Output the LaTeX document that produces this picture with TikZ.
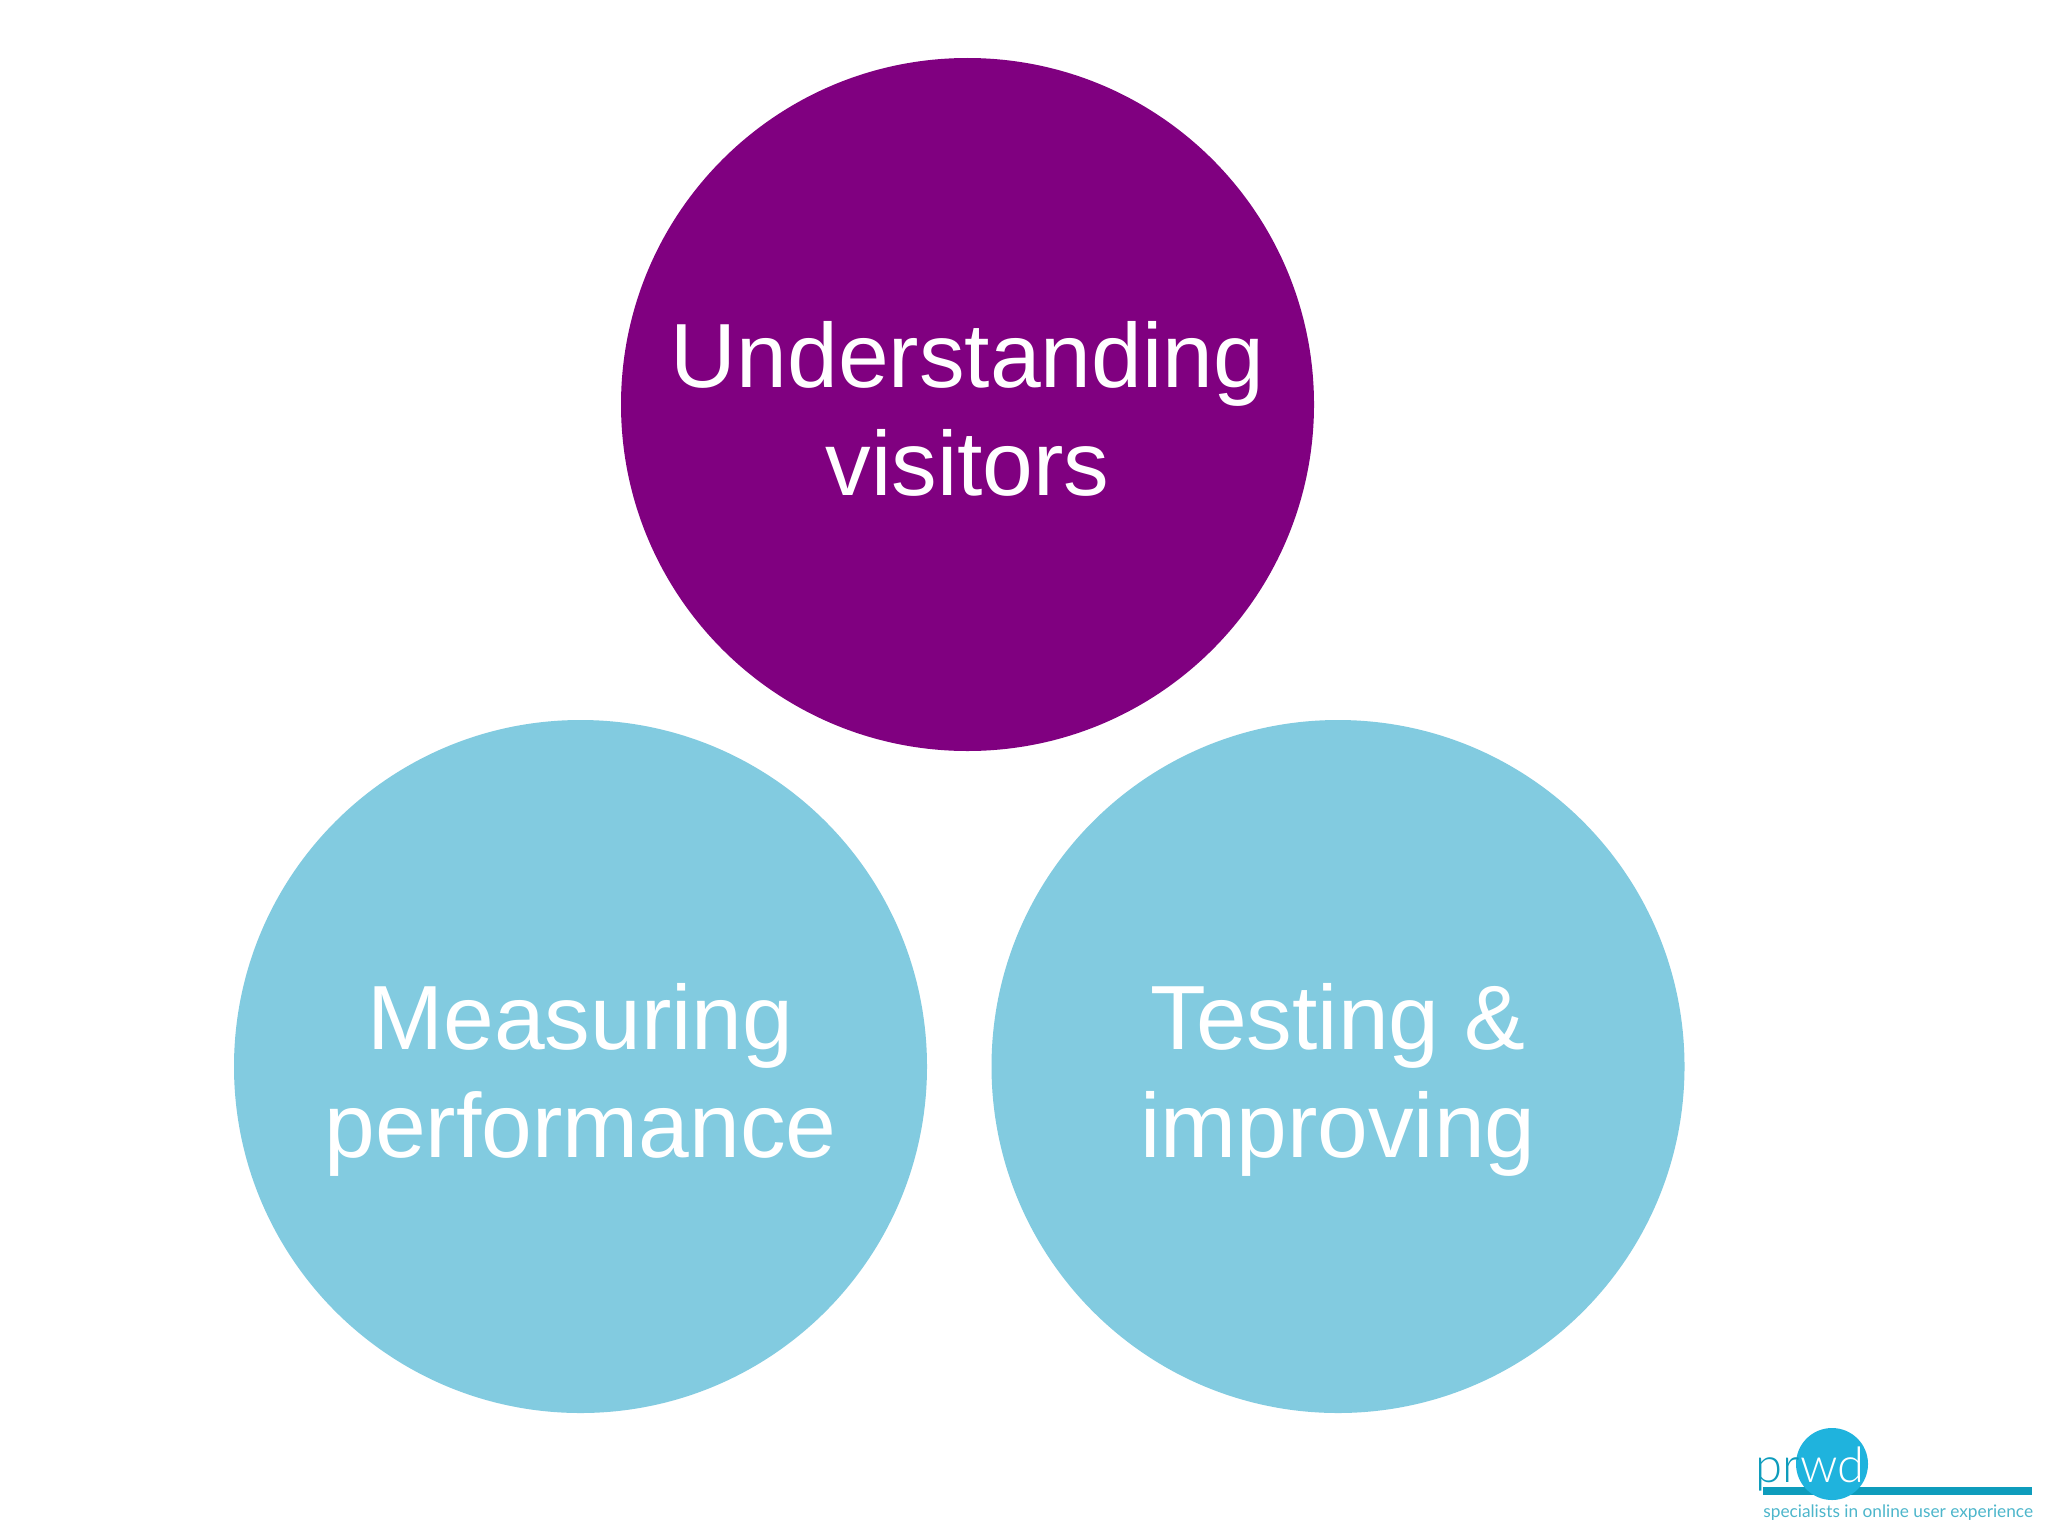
\documentclass[tikz,border=0pt]{standalone}
\usepackage{fontspec}
\setmainfont{Liberation Sans}
\newfontfamily\logofont{Lato Light}
\newfontfamily\tagfont{Lato}
\definecolor{plum}{HTML}{800080}
\definecolor{skyblue}{HTML}{82CBE0}
\definecolor{logoblue}{HTML}{1FB3DD}
\definecolor{logobar}{HTML}{0E9CBC}
\definecolor{logotext}{HTML}{4DB6CB}
\tikzset{
	bubble/.style = {circle, minimum size = 346.5pt, inner sep = 0pt},
	bubbletext/.style = {text = white, align = center, yshift = -7.5pt, font = \fontsize{45.6}{54}\selectfont},
}

\begin{document}
\begin{tikzpicture}[x = .5pt, y = -.5pt]
	\useasboundingbox (0,0) rectangle (2048,1536);
	\fill [white] (0,0) rectangle (2048,1536);
	\node [bubble, fill = plum] (understand) at (967.5,404.5) {};
	\node [bubbletext] (understandtext) at (understand) {\strut Understanding\\\strut visitors};
	\node [bubble, fill = skyblue] (measure) at (580.5,1066.5) {};
	\node [bubbletext] (measuretext) at (measure) {\strut Measuring\\\strut performance};
	\node [bubble, fill = skyblue] (test) at (1338,1066.5) {};
	\node [bubbletext] (testtext) at (test) {\strut Testing \&\\\strut improving};
	% logo
	\node [fill = logobar, minimum width = 134.5pt, minimum height = 4pt, inner sep = 0pt] (logobar) at (1897.5,1491) {};
	\node [circle, fill = logoblue, minimum size = 36pt, inner sep = 0pt] (logodot) at (1832,1464) {};
	\node [anchor = base west, inner sep = 0pt, text = logobar, font = \logofont\fontsize{24.5}{24}\selectfont] (logopr) at (1755,1482) {pr};
	\node [anchor = base west, inner sep = 0pt, text = white, font = \logofont\fontsize{24.5}{24}\selectfont] (logowd) at (logopr.base east) {wd};
	\node [anchor = base west, inner sep = 0pt, text = logotext, font = \tagfont\fontsize{8.63}{8}\selectfont] (logotag) at (1763,1517) {specialists in online user experience};
\end{tikzpicture}
\end{document}
